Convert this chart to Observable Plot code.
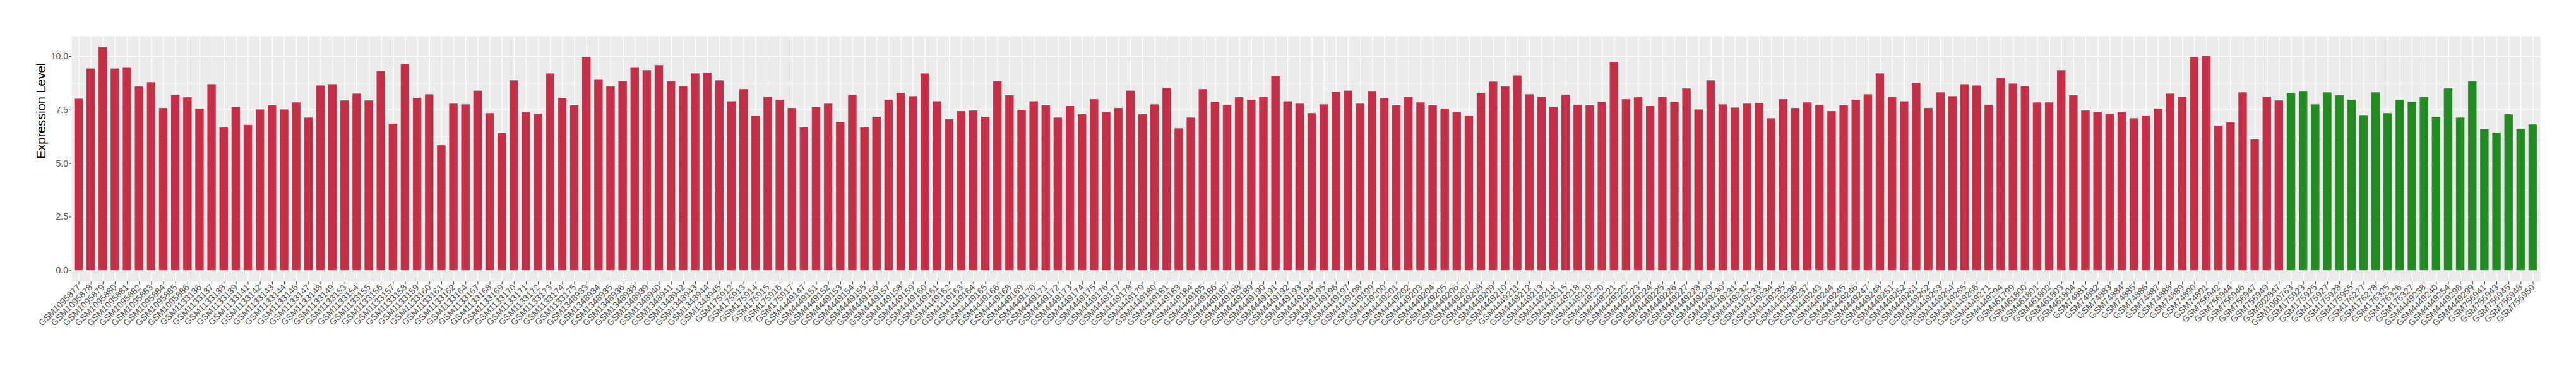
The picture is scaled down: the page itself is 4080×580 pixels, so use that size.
<!DOCTYPE html>
<html>
<head>
<meta charset="utf-8">
<script src="https://cdn.jsdelivr.net/npm/d3@7"></script>
<script src="https://cdn.jsdelivr.net/npm/@observablehq/plot@0.6"></script>
<style>
  html, body { margin: 0; padding: 0; background: #ffffff; }
  #chart { width: 4080px; height: 580px; }
</style>
</head>
<body>
<div id="chart"></div>
<script>
const yLabel = "Expression Level";
const yTicks = [0, 2.5, 5, 7.5, 10];
const yMinorTicks = [1.25, 3.75, 6.25, 8.75];

const redSamples = [
  "GSM1095877","GSM1095878","GSM1095879","GSM1095880","GSM1095881","GSM1095882","GSM1095883","GSM1095884","GSM1095885","GSM1095886",
  "GSM1133136","GSM1133137","GSM1133138","GSM1133139","GSM1133141","GSM1133142","GSM1133143","GSM1133144","GSM1133146","GSM1133147",
  "GSM1133148","GSM1133149","GSM1133153","GSM1133154","GSM1133155","GSM1133156","GSM1133157","GSM1133158","GSM1133159","GSM1133160",
  "GSM1133161","GSM1133162","GSM1133164","GSM1133167","GSM1133168","GSM1133169","GSM1133170","GSM1133171","GSM1133172","GSM1133173",
  "GSM1133174","GSM1133175","GSM1348933","GSM1348934","GSM1348935","GSM1348936","GSM1348938","GSM1348939","GSM1348940","GSM1348941",
  "GSM1348942","GSM1348943","GSM1348944","GSM1348945","GSM175912","GSM175913","GSM175914","GSM175915","GSM175916","GSM175917",
  "GSM4449147","GSM4449151","GSM4449152","GSM4449153","GSM4449154","GSM4449155","GSM4449156","GSM4449157","GSM4449158","GSM4449159",
  "GSM4449160","GSM4449161","GSM4449162","GSM4449163","GSM4449164","GSM4449165","GSM4449166","GSM4449168","GSM4449169","GSM4449170",
  "GSM4449171","GSM4449172","GSM4449173","GSM4449174","GSM4449175","GSM4449176","GSM4449177","GSM4449178","GSM4449179","GSM4449180",
  "GSM4449181","GSM4449183","GSM4449184","GSM4449185","GSM4449186","GSM4449187","GSM4449188","GSM4449189","GSM4449190","GSM4449191",
  "GSM4449192","GSM4449193","GSM4449194","GSM4449195","GSM4449196","GSM4449197","GSM4449198","GSM4449199","GSM4449200","GSM4449201",
  "GSM4449202","GSM4449203","GSM4449204","GSM4449205","GSM4449206","GSM4449207","GSM4449208","GSM4449209","GSM4449210","GSM4449211",
  "GSM4449212","GSM4449213","GSM4449214","GSM4449215","GSM4449218","GSM4449219","GSM4449220","GSM4449221","GSM4449222","GSM4449223",
  "GSM4449224","GSM4449225","GSM4449226","GSM4449227","GSM4449228","GSM4449229","GSM4449230","GSM4449231","GSM4449232","GSM4449233",
  "GSM4449234","GSM4449235","GSM4449236","GSM4449237","GSM4449243","GSM4449244","GSM4449245","GSM4449246","GSM4449247","GSM4449248",
  "GSM4449251","GSM4449252","GSM4449261","GSM4449262","GSM4449263","GSM4449264","GSM4449265","GSM4449266","GSM4449271","GSM4449294",
  "GSM461799","GSM461800","GSM461801","GSM461802","GSM461803","GSM461804","GSM74881","GSM74882","GSM74883","GSM74884",
  "GSM74885","GSM74886","GSM74887","GSM74888","GSM74889","GSM74890","GSM74891","GSM756942","GSM756944","GSM756946",
  "GSM756947","GSM756949","GSM802847"
];
const redValues = [
  8.01, 9.42, 10.42, 9.42, 9.48, 8.58, 8.78, 7.58, 8.19, 8.08,
  7.55, 8.69, 6.67, 7.63, 6.79, 7.51, 7.70, 7.51, 7.84, 7.13,
  8.63, 8.69, 7.93, 8.25, 7.93, 9.31, 6.84, 9.63, 8.05, 8.22,
  5.84, 7.78, 7.75, 8.39, 7.34, 6.41, 8.87, 7.39, 7.31, 9.19,
  8.05, 7.70, 9.96, 8.92, 8.58, 8.84, 9.48, 9.34, 9.58, 8.84,
  8.60, 9.19, 9.22, 8.87, 7.89, 8.46, 7.20, 8.10, 7.96, 7.58,
  6.67, 7.63, 7.78, 6.93, 8.19, 6.67, 7.17, 7.96, 8.28, 8.13,
  9.19, 7.89, 7.05, 7.43, 7.46, 7.17, 8.84, 8.17, 7.49, 7.89,
  7.70, 7.13, 7.67, 7.29, 7.99, 7.39, 7.58, 8.39, 7.29, 7.75,
  8.51, 6.63, 7.13, 8.46, 7.87, 7.72, 8.08, 7.96, 8.10, 9.08,
  7.89, 7.78, 7.34, 7.75, 8.34, 8.39, 7.78, 8.37, 8.05, 7.70,
  8.10, 7.84, 7.70, 7.55, 7.39, 7.20, 8.28, 8.81, 8.58, 9.10,
  8.22, 8.10, 7.63, 8.19, 7.72, 7.70, 7.87, 9.72, 7.99, 8.08,
  7.67, 8.10, 7.87, 8.49, 7.51, 8.87, 7.75, 7.60, 7.78, 7.81,
  7.10, 7.99, 7.58, 7.84, 7.72, 7.43, 7.70, 7.96, 8.22, 9.19,
  8.10, 7.89, 8.75, 7.58, 8.31, 8.13, 8.69, 8.63, 7.72, 8.98,
  8.72, 8.60, 7.84, 7.84, 9.34, 8.17, 7.46, 7.39, 7.31, 7.39,
  7.10, 7.20, 7.55, 8.25, 8.10, 9.96, 10.01, 6.75, 6.91, 8.31,
  6.11, 8.10, 7.93
];

const greenSamples = [
  "GSM1060763","GSM175923","GSM175925","GSM175927","GSM175928","GSM175955","GSM176277","GSM176278","GSM176325","GSM176326",
  "GSM176327","GSM4449238","GSM4449240","GSM4449254","GSM4449298","GSM4449299","GSM756941","GSM756943","GSM756945","GSM756948",
  "GSM756950"
];
const greenValues = [
  8.28, 8.37, 7.75, 8.31, 8.17, 7.96, 7.22, 8.31, 7.34, 7.96,
  7.87, 8.10, 7.17, 8.49, 7.13, 8.84, 6.58, 6.43, 7.29, 6.60,
  6.81
];

const redRows = redSamples.map((s, i) => ({sample: s, value: redValues[i]}));
const greenRows = greenSamples.map((s, i) => ({sample: s, value: greenValues[i]}));
const allSamples = redSamples.concat(greenSamples);
const maxVal = d3.max(redValues.concat(greenValues));

const chart = Plot.plot({
  width: 4080,
  height: 580,
  marginLeft: 113,
  marginRight: 57,
  marginTop: 57,
  marginBottom: 134,
  style: {background: "#ffffff", fontFamily: "'Liberation Sans', Arial, sans-serif", fontSize: "14px"},
  x: {domain: allSamples, paddingInner: 0.3, paddingOuter: 0.25, label: null},
  y: {domain: [-0.05 * maxVal, 1.05 * maxVal], label: null},
  marks: [
    Plot.frame({fill: "#EBEBEB", stroke: null}),
    Plot.gridY({ticks: yMinorTicks, stroke: "#ffffff", strokeOpacity: 1, strokeWidth: 0.7}),
    Plot.gridY({ticks: yTicks, stroke: "#ffffff", strokeOpacity: 1, strokeWidth: 1.4}),
    Plot.gridX({stroke: "#ffffff", strokeOpacity: 1, strokeWidth: 1.4}),
    Plot.barY(redRows, {x: "sample", y: "value", fill: "#C33148"}),
    Plot.barY(greenRows, {x: "sample", y: "value", fill: "#228B22"}),
    Plot.axisY({ticks: yTicks, tickFormat: d3.format(".1f"), tickSize: 4, tickPadding: 1.5, stroke: "#333333", fill: "#4D4D4D", fontSize: 14, label: null}),
    Plot.axisX({tickRotate: -45, tickSize: 4.5, tickPadding: 2, stroke: "#333333", fill: "#4D4D4D", fontSize: 14, label: null}),
    Plot.text([yLabel], {frameAnchor: "left", rotate: -90, dx: -48, fontSize: 20, fill: "#000000"})
  ]
});
document.getElementById("chart").appendChild(chart);
</script>
</body>
</html>
